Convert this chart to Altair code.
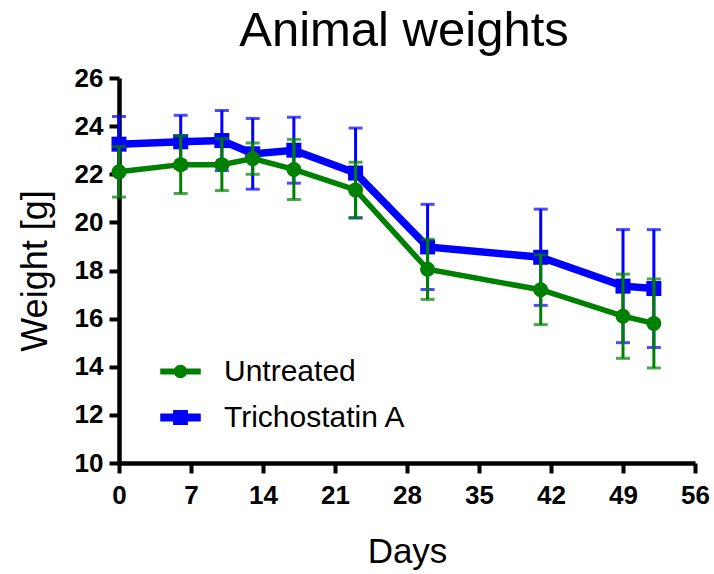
import altair as alt
import pandas as pd

days = [0, 6, 10, 13, 17, 23, 30, 41, 49, 52]
series_names = ["Untreated", "Trichostatin A"]
untreated_mean = [22.1, 22.4, 22.4, 22.65, 22.2, 21.35, 18.05, 17.2, 16.1, 15.8]
untreated_sd = [1.05, 1.2, 1.08, 0.65, 1.25, 1.15, 1.25, 1.45, 1.75, 1.85]
tsa_mean = [23.25, 23.35, 23.4, 22.85, 23.0, 22.05, 18.98, 18.55, 17.35, 17.25]
tsa_sd = [1.15, 1.1, 1.25, 1.47, 1.37, 1.87, 1.77, 2.0, 2.35, 2.45]
colors = ["#008000", "#0000ff"]
x_ticks = [0, 7, 14, 21, 28, 35, 42, 49, 56]
y_ticks = list(range(10, 27))

rows = []
for name, means, sds in [("Untreated", untreated_mean, untreated_sd),
                         ("Trichostatin A", tsa_mean, tsa_sd)]:
    for d, m, s in zip(days, means, sds):
        rows.append({"day": d, "weight": m, "lo": m - s, "hi": m + s, "series": name})
df = pd.DataFrame(rows)

FONT = "Liberation Sans"

circle_path = ("M-0.9,-0.135 H0.9 V0.135 H-0.9 Z "
               "M0.3,0 A0.3,0.3 0 1,1 -0.3,0 A0.3,0.3 0 1,1 0.3,0 Z")
square_path = ("M-0.9,-0.18 H0.9 V0.18 H-0.9 Z "
               "M-0.33,-0.33 H0.33 V0.33 H-0.33 Z")

legend = alt.Legend(
    title=None, orient="none", legendX=39, legendY=271, padding=0,
    symbolSize=2025, symbolStrokeWidth=0, symbolOpacity=1,
    labelFontSize=30, labelFont=FONT,
    labelColor="black", labelOffset=21, rowPadding=8, labelLimit=400)

x_enc = alt.X("day:Q", scale=alt.Scale(domain=[0, 56], nice=False),
              axis=alt.Axis(values=x_ticks, title="Days", grid=False,
                            labelFont=FONT, labelFontSize=26, labelFontWeight="bold",
                            labelColor="black", labelPadding=9,
                            tickSize=10, tickWidth=4, tickColor="black",
                            domainWidth=4.5, domainColor="black",
                            titleFont=FONT, titleFontSize=35, titleFontWeight="normal",
                            titleColor="black", titlePadding=26, labelFlush=False))
y_axis = alt.Axis(values=y_ticks, title="Weight [g]", grid=False,
                  labelExpr="datum.value % 2 === 0 ? datum.label : ''",
                  labelFont=FONT, labelFontSize=26, labelFontWeight="bold",
                  labelColor="black", labelPadding=6,
                  tickSize={"condition": {"test": "datum.value % 2 === 0", "value": 10}, "value": 5},
                  tickWidth=4, tickColor="black",
                  domainWidth=4.5, domainColor="black",
                  titleFont=FONT, titleFontSize=36, titleFontWeight="normal",
                  titleColor="black", titlePadding=20)
y_scale = alt.Scale(domain=[10, 26], nice=False, zero=False)

layers = []
for name, col, lw, shape in [("Trichostatin A", colors[1], 7.5, "square"),
                             ("Untreated", colors[0], 5.5, "circle")]:
    base = alt.Chart(df).transform_filter(alt.datum.series == name)
    layers.append(base.mark_line(strokeWidth=lw, color=col).encode(
        x=x_enc, y=alt.Y("weight:Q", scale=y_scale, axis=y_axis)))
    layers.append(base.mark_rule(strokeWidth=3, color=col).encode(
        x="day:Q", y="lo:Q", y2="hi:Q"))
    layers.append(base.mark_tick(orient="horizontal", size=14, thickness=3, color=col).encode(
        x="day:Q", y="lo:Q"))
    layers.append(base.mark_tick(orient="horizontal", size=14, thickness=3, color=col).encode(
        x="day:Q", y="hi:Q"))
    layers.append(base.mark_point(shape=shape, filled=True, size=225, opacity=1, color=col).encode(
        x="day:Q", y="weight:Q"))

# legend-only layer (invisible marks)
layers.append(alt.Chart(df).mark_point(filled=True, opacity=0).encode(
    x="day:Q", y="weight:Q",
    color=alt.Color("series:N", scale=alt.Scale(domain=series_names, range=colors), legend=legend),
    shape=alt.Shape("series:N", scale=alt.Scale(domain=series_names, range=[circle_path, square_path]),
                    legend=legend)))

chart = alt.layer(*layers).properties(
    width=576, height=385,
    title=alt.Title("Animal weights", fontSize=49, font=FONT, fontWeight="normal",
                    anchor="middle", offset=20, dy=50, dx=-3, baseline="alphabetic", color="black"),
    autosize=alt.AutoSizeParams(type="none"),
    padding={"left": 119, "top": 78, "right": 19, "bottom": 111},
).configure_view(stroke=None)

chart.save("out.html", embed_options={"renderer": "svg", "actions": False})
